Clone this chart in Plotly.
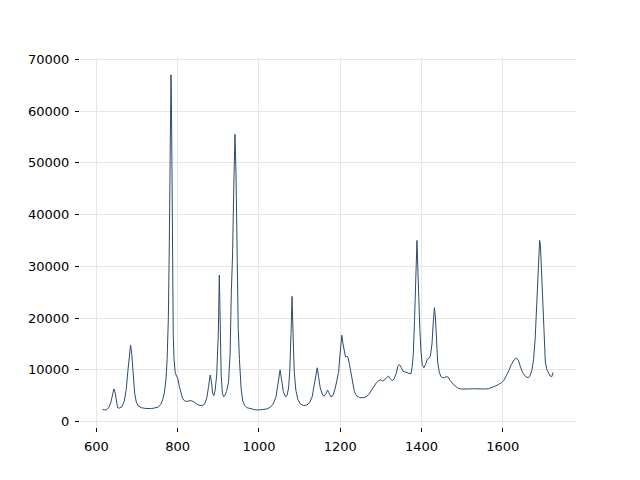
import plotly.graph_objects as go

# Raman spectrum (wavenumber in cm^-1, intensity in counts)
wavenumber = [
    615, 620, 625, 630, 635, 640, 643, 646, 649, 652, 656, 662, 668, 673, 677, 681, 684, 687, 690, 694,
    698, 703, 710, 720, 735, 745, 752, 758, 763, 767, 771, 774, 777, 779, 781, 782.5, 783.5, 784.5, 786, 787.5,
    789, 791, 794, 797, 800, 804, 808, 812, 817, 822, 828, 833, 838, 843, 850, 857, 862, 867, 872, 876,
    880, 883, 886, 889, 892, 896, 900, 902.5, 904.5, 907, 910, 913, 916, 920, 925, 929, 932, 935, 938, 941,
    943.5, 946, 949, 952, 956, 960, 965, 970, 980, 990, 1000, 1010, 1020, 1028, 1035, 1042, 1047, 1052, 1056, 1060,
    1065, 1069, 1073, 1076, 1079, 1081.5, 1084, 1087, 1091, 1096, 1102, 1110, 1118, 1125, 1131, 1136, 1140, 1143.5, 1147, 1151,
    1156, 1160, 1165, 1169, 1172, 1177, 1182, 1187, 1192, 1196, 1199, 1202, 1204, 1207, 1210, 1213, 1216, 1219, 1223, 1227,
    1231, 1235, 1240, 1248, 1256, 1264, 1270, 1277, 1283, 1289, 1295, 1300, 1305, 1310, 1315, 1319, 1323, 1328, 1333, 1338,
    1342, 1346, 1350, 1355, 1360, 1365, 1370, 1374, 1377, 1380, 1383, 1386, 1389, 1391, 1393, 1396, 1399, 1402, 1406, 1410,
    1414, 1418, 1422, 1426, 1429, 1432, 1434.5, 1437, 1440, 1444, 1448, 1452, 1457, 1462, 1466, 1470, 1475, 1480, 1486, 1492,
    1498, 1505, 1515, 1525, 1535, 1545, 1555, 1565, 1575, 1583, 1590, 1597, 1603, 1609, 1615, 1621, 1628, 1634, 1639, 1644,
    1649, 1654, 1659, 1664, 1668, 1672, 1676, 1680, 1684, 1688, 1691, 1693, 1696, 1699, 1702, 1705, 1709, 1713, 1717, 1721,
    1724,
]
intensity = [
    2350, 2250, 2300, 2700, 3600, 5500, 6300, 5600, 3600, 2700, 2600, 2800, 3800, 6000, 9500, 13500, 14800, 13000, 9000, 5500,
    3800, 3000, 2700, 2550, 2500, 2600, 2800, 3300, 4200, 5500, 8000, 12000, 20000, 32000, 50000, 64000, 67000, 63000, 45000, 28000,
    17000, 12000, 9500, 8800, 8400, 6800, 5300, 4500, 4000, 3900, 4000, 4050, 3900, 3600, 3250, 3100, 3150, 3500, 4700, 6800,
    9000, 7800, 5500, 5000, 6000, 9000, 17000, 28300, 20000, 9000, 5500, 4800, 5000, 5800, 7500, 13000, 25000, 32000, 45000, 55500,
    48000, 30000, 18000, 12000, 6500, 4000, 3100, 2700, 2450, 2300, 2250, 2300, 2450, 2800, 3400, 4800, 7000, 10000, 8000, 5800,
    4800, 5000, 6500, 10000, 17000, 24200, 17000, 9500, 6000, 4200, 3400, 3100, 3200, 3700, 4800, 7000, 9000, 10400, 8500, 6500,
    5300, 4900, 5400, 6100, 5600, 4800, 5000, 6200, 8000, 9500, 12500, 16000, 16700, 15000, 13500, 12500, 12600, 12500, 11000, 9500,
    7500, 5800, 5000, 4650, 4600, 4800, 5200, 6000, 6900, 7500, 7900, 8100, 7800, 8200, 8400, 8800, 8300, 7900, 8300, 9300,
    10700, 11000, 10500, 9700, 9600, 9500, 9300, 9200, 10500, 13000, 19500, 27000, 35000, 30000, 24000, 18000, 13500, 11000, 10400, 11000,
    12000, 12200, 12700, 15000, 19000, 22000, 20000, 15000, 11500, 9500, 8700, 8500, 8500, 8700, 8600, 8000, 7500, 7100, 6700, 6400,
    6300, 6250, 6300, 6350, 6300, 6300, 6300, 6350, 6600, 6900, 7200, 7500, 8000, 8800, 9800, 11000, 11900, 12300, 11800, 10500,
    9500, 8900, 8600, 8500, 9000, 10000, 12000, 16000, 22000, 30000, 35000, 34000, 28000, 21000, 15000, 11500, 10000, 9400, 8800, 8700,
    9500,
]

x_ticks = [600, 800, 1000, 1200, 1400, 1600]
y_ticks = [0, 10000, 20000, 30000, 40000, 50000, 60000, 70000]

LINE_COLOR = "#2d4b6e"
GRID_COLOR = "#e6e6e6"

fig = go.Figure()
fig.add_trace(go.Scatter(x=wavenumber, y=intensity, mode="lines",
                         line=dict(color=LINE_COLOR, width=1), showlegend=False))

axis_style = dict(showline=False, zeroline=False, showgrid=True, gridcolor=GRID_COLOR, gridwidth=1.3,
                  ticks="outside", ticklen=4, tickwidth=1, tickcolor="black", ticklabelstandoff=3,
                  tickfont=dict(family="DejaVu Sans", size=13, color="black"))

# the page body adds an 8px offset, so margins are trimmed by that much
fig.update_layout(
    width=640, height=480,
    margin=dict(l=72, r=72, t=50, b=61),
    plot_bgcolor="white", paper_bgcolor="white",
    xaxis=dict(range=[559.5, 1780.5], tickvals=x_ticks, **axis_style),
    yaxis=dict(range=[-1040, 70240], tickvals=y_ticks, tickformat="d", **axis_style),
)

fig.write_html("out.html")
